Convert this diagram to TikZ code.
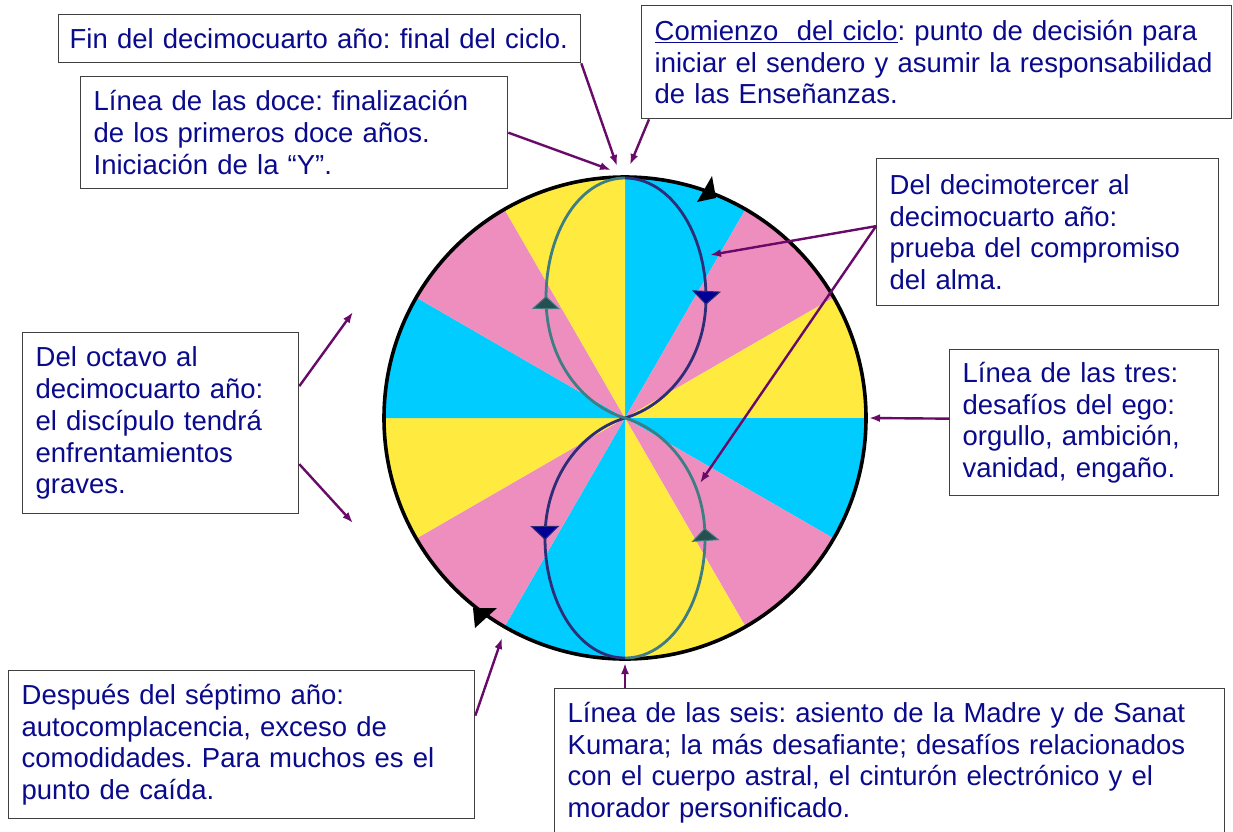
\documentclass[tikz,border=0pt]{standalone}
\usepackage{fontspec}
\setmainfont{Liberation Sans}
\usepackage{tikz}
\usetikzlibrary{arrows.meta,decorations.markings}
\definecolor{secC}{RGB}{0,204,255}
\definecolor{secP}{RGB}{238,142,191}
\definecolor{secY}{RGB}{255,235,64}
\definecolor{txtblue}{RGB}{10,10,140}
\definecolor{conn}{RGB}{105,10,105}
\definecolor{navyl}{RGB}{45,45,120}
\definecolor{teall}{RGB}{62,125,130}
\definecolor{navyf}{RGB}{0,0,150}
\definecolor{tealf}{RGB}{38,80,80}
\frenchspacing
\tikzstyle{nota} = [draw=black!75, line width=1.3pt, fill=white, rectangle, anchor=north west,
inner xsep=13pt, align=left, text=txtblue, font=\fontsize{27.5}{31.8}\selectfont]
\tikzstyle{flecha} = [->, conn, line width=2.4pt]
\tikzset{navtip/.tip={Triangle[width=29pt,length=14pt,fill=navyf,color=navyl,line width=1pt]},
tealtip/.tip={Triangle[width=28pt,length=13pt,fill=tealf,color=teall,line width=1pt]}}

\begin{document}
\begin{tikzpicture}[x=1pt, y=1pt, >={Latex[length=11pt,width=8pt]}]

\useasboundingbox (0,0) rectangle (1233,-831);
\fill[white] (0,0) rectangle (1233,-831);

\coordinate (C) at (625,-418);

% twelve sectors, clockwise from the top
\foreach \a/\c in {60/secC, 30/secP, 0/secY, -30/secC, -60/secP, -90/secY,
                   -120/secC, -150/secP, 180/secY, 150/secC, 120/secP, 90/secY}
  \fill[\c] (C) -- ++(\a:241) arc[start angle=\a, end angle=\a+30, radius=241] -- cycle;

\draw[line width=3.6pt] (C) circle (241);

\draw[navyl, line width=2.8pt, postaction={decorate}, decoration={markings,
    mark=at position 0.265 with {\arrow{navtip}},
    mark=at position 0.75 with {\arrow{navtip}}}]
  (625,-178) .. controls (670,-178) and (706,-232) .. (706,-298)
  .. controls (706,-360) and (668,-405) .. (C)
  .. controls (582,-431) and (545,-476) .. (545,-538)
  .. controls (545,-604) and (580,-658) .. (625,-658);

\draw[teall, line width=2.8pt, postaction={decorate}, decoration={markings,
    mark=at position 0.27 with {\arrow{tealtip}},
    mark=at position 0.75 with {\arrow{tealtip}}}]
  (625,-658) .. controls (670,-658) and (705,-604) .. (705,-538)
  .. controls (705,-476) and (668,-431) .. (C)
  .. controls (582,-405) and (546,-360) .. (546,-298)
  .. controls (546,-232) and (580,-178) .. (625,-178);

\fill (712,-176) -- (697,-202) -- (716,-198) -- cycle;
\fill (475,-628) -- (473,-608) -- (497,-608) -- cycle;

\node [nota, minimum width=522pt, minimum height=48pt, text width=500pt, inner xsep=11pt] (fin) at (58,-14)
  {Fin del decimocuarto año: final del ciclo.};
\node [nota, minimum width=427pt, minimum height=112pt, text width=401pt] (doce) at (80,-76)
  {Línea de las doce: finalización\\de los primeros doce años.\\Iniciación de la “Y”.};
\node [nota, minimum width=590pt, minimum height=113pt, text width=564pt] (comienzo) at (641,-5)
  {\underline{Comienzo\ \ del ciclo}: punto de decisión para\\iniciar el sendero y asumir la responsabilidad\\de las Enseñanzas.};
\node [nota, minimum width=342pt, minimum height=147pt, text width=316pt] (trece) at (876,-158)
  {Del decimotercer al\\decimocuarto año:\\prueba del compromiso\\del alma.};
\node [nota, minimum width=276pt, minimum height=181pt, text width=250pt] (octavo) at (22,-332)
  {Del octavo al\\decimocuarto año:\\el discípulo tendrá\\enfrentamientos\\graves.};
\node [nota, minimum width=269pt, minimum height=146pt, text width=243pt] (tres) at (949,-349)
  {Línea de las tres:\\desafíos del ego:\\orgullo, ambición,\\vanidad, engaño.};
\node [nota, minimum width=466pt, minimum height=148pt, text width=440pt] (septimo) at (8,-670)
  {Después del séptimo año:\\autocomplacencia, exceso de\\comodidades. Para muchos es el\\punto de caída.};
\node [nota, minimum width=670pt, minimum height=148pt, text width=644pt] (seis) at (554,-688)
  {Línea de las seis: asiento de la Madre y de Sanat\\Kumara; la más desafiante; desafíos relacionados\\con el cuerpo astral, el cinturón electrónico y el\\morador personificado.};

\coordinate (finTip) at (617,-166);
\coordinate (doceTip) at (611,-170);
\coordinate (comTip) at (630,-165);
\coordinate (treceTipA) at (710,-255);
\coordinate (treceTipB) at (700,-483);
\coordinate (octTipA) at (353,-312);
\coordinate (octTipB) at (353,-523);
\coordinate (tresTip) at (869,-418);
\coordinate (septTip) at (502,-638);
\coordinate (seisTip) at (625,-663);

\draw [flecha] (fin.south east) -- (finTip);
\draw [flecha] (doce.east) -- (doceTip);
\draw [flecha] ([xshift=8pt]comienzo.south west) -- (comTip);
\draw [flecha] ([yshift=6pt]trece.west) -- (treceTipA);
\draw [flecha] ([yshift=6pt]trece.west) -- (treceTipB);
\draw [flecha] ([yshift=37pt]octavo.east) -- (octTipA);
\draw [flecha] ([yshift=-41pt]octavo.east) -- (octTipB);
\draw [flecha] ([yshift=4pt]tres.west) -- (tresTip);
\draw [flecha] ([yshift=29pt]septimo.east) -- (septTip);
\draw [flecha] ([xshift=71pt]seis.north west) -- (seisTip);
\end{tikzpicture}
\end{document}
